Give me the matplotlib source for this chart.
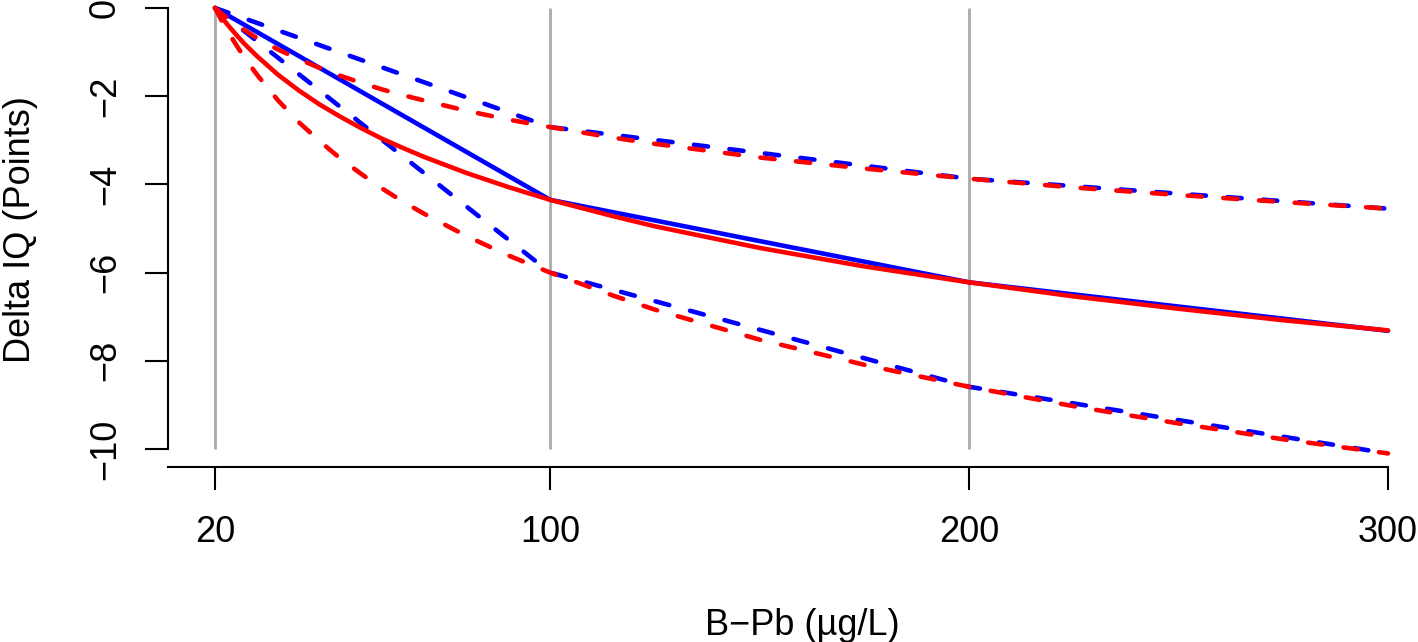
import matplotlib

matplotlib.use("Agg")

import matplotlib.pyplot as plt

# knots of the piecewise-linear (blue) fits
knot_x = [20, 100, 200, 300]
blue_mid = [0, -4.35, -6.22, -7.32]
blue_upper = [0, -2.70, -3.87, -4.55]
blue_lower = [0, -6.00, -8.59, -10.10]

# smooth (red) curves
curve_x = [20, 21, 22, 23, 25, 27, 30, 35, 40, 45, 50, 55, 60, 65, 70, 80, 90,
           100, 115, 125, 150, 175, 200, 225, 250, 275, 300]
red_mid = [0, -0.13, -0.26, -0.38, -0.60, -0.81, -1.09, -1.51, -1.87, -2.19,
           -2.47, -2.73, -2.97, -3.18, -3.38, -3.74, -4.06, -4.35, -4.72, -4.95,
           -5.44, -5.86, -6.22, -6.54, -6.82, -7.08, -7.31]
red_upper = [0, -0.08, -0.16, -0.23, -0.37, -0.50, -0.68, -0.94, -1.16, -1.36,
             -1.54, -1.70, -1.85, -1.98, -2.10, -2.33, -2.53, -2.70, -2.94, -3.08,
             -3.39, -3.64, -3.87, -4.07, -4.24, -4.40, -4.55]
red_lower = [0, -0.18, -0.36, -0.52, -0.83, -1.12, -1.51, -2.09, -2.59, -3.02,
             -3.42, -3.77, -4.10, -4.40, -4.67, -5.17, -5.61, -6.00, -6.52, -6.84,
             -7.52, -8.09, -8.59, -9.03, -9.42, -9.78, -10.10]

grid_x = [20, 100, 200]
x_ticks = [20, 100, 200, 300]
y_ticks = [0, -2, -4, -6, -8, -10]

plt.rcParams["font.family"] = ["Liberation Sans", "DejaVu Sans"]
plt.rcParams["font.size"] = 26

W, H = 1418, 642
fig = plt.figure(figsize=(W / 100, H / 100), dpi=100)
# axes box placed in pixels so that the R-style 4% padding lands as in the source
left, right, top, bottom = 168.1, 1434.9, -9.64, 466.64
ax = fig.add_axes([left / W, (H - bottom) / H, (right - left) / W, (bottom - top) / H])
ax.set_xlim(8.8, 311.2)
ax.set_ylim(-10.4, 0.4)
ax.patch.set_alpha(0)

ax.vlines(grid_x, -10, 0, color="#aaaaaa", linewidth=2, zorder=1)

lw = 3.3
solid = dict(linewidth=lw, solid_capstyle="round", solid_joinstyle="round")
dashed = dict(linewidth=lw, dashes=(3.1, 4.7), dash_capstyle="round",
              dash_joinstyle="round")
ax.plot(knot_x, blue_upper, color="#0000ff", **dashed)
ax.plot(knot_x, blue_lower, color="#0000ff", **dashed)
ax.plot(knot_x, blue_mid, color="#0000ff", **solid)
ax.plot(curve_x, red_upper, color="#ff0000", **dashed)
ax.plot(curve_x, red_lower, color="#ff0000", **dashed)
ax.plot(curve_x, red_mid, color="#ff0000", **solid)

for side in ("top", "right"):
    ax.spines[side].set_visible(False)
ax.spines["left"].set_bounds(-10, 0)
ax.spines["bottom"].set_bounds(8.8, 300)
ax.spines["left"].set_linewidth(1.5)
ax.spines["bottom"].set_linewidth(1.5)

ax.set_xticks(x_ticks)
ax.set_xticklabels([str(v) for v in x_ticks])
ax.set_yticks(y_ticks)
ax.set_yticklabels([f"{v}".replace("-", "\u2212") for v in y_ticks],
                   rotation=90, va="center")
ax.tick_params(axis="both", length=16.5, width=1.5, color="black")
ax.tick_params(axis="x", pad=18)
ax.tick_params(axis="y", pad=16)

fig.text(21 / W, (H - 230) / H, "Delta IQ (Points)", rotation=90,
         ha="center", va="center")
fig.text(802 / W, (H - 635) / H, "B\u2212Pb (\u00b5g/L)", ha="center", va="baseline")

fig.savefig("out.png", dpi=100)
